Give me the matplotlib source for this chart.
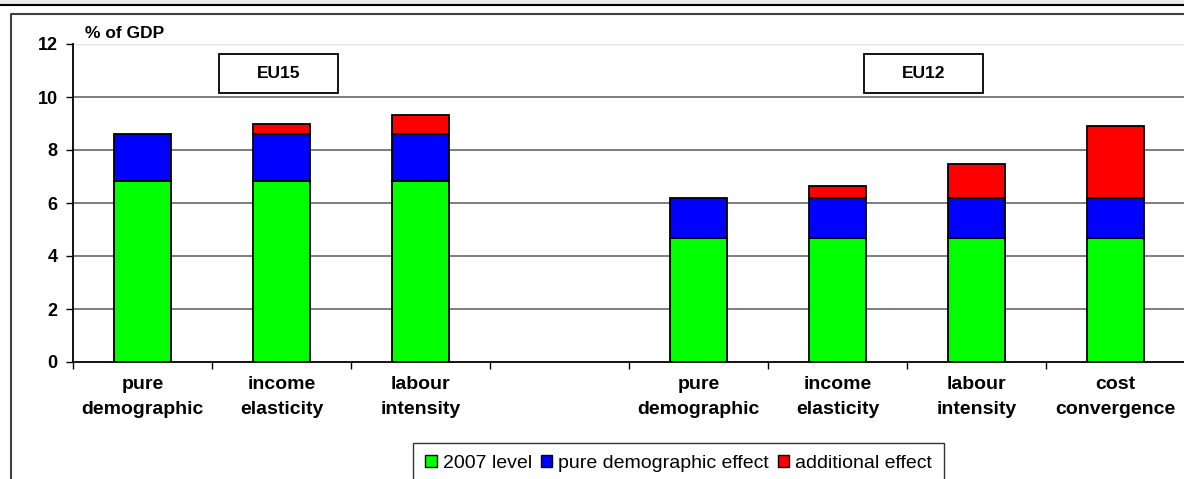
import matplotlib
matplotlib.use("Agg")
import matplotlib.pyplot as plt
from matplotlib.patches import Rectangle, Patch
from matplotlib.lines import Line2D
import numpy as np

# ---- data ----
categories = ["pure\ndemographic", "income\nelasticity", "labour\nintensity", "",
              "pure\ndemographic", "income\nelasticity", "labour\nintensity", "cost\nconvergence"]
level_2007 = [6.82, 6.82, 6.82, 0.0, 4.68, 4.68, 4.68, 4.68]
pure_demo_effect = [1.77, 1.77, 1.77, 0.0, 1.51, 1.51, 1.51, 1.51]
additional_effect = [0.0, 0.38, 0.73, 0.0, 0.0, 0.44, 1.28, 2.71]
series_names = ["2007 level", "pure demographic effect", "additional effect"]
group_labels = ["EU15", "EU12"]
y_ticks = [0, 2, 4, 6, 8, 10, 12]

W, H = 1184, 479
fig = plt.figure(figsize=(W / 100, H / 100), dpi=100)
plt.rcParams['font.family'] = ['Liberation Sans', 'DejaVu Sans']

def fx(px):
    return px / W

def fy(py):
    return 1 - py / H

# top strip (cut-off title area)
fig.patches.append(Rectangle((0, fy(4.5)), 1, 4.5 / H, transform=fig.transFigure,
                             facecolor="#ececec", edgecolor="none", zorder=0))
fig.add_artist(Line2D([0, 1], [fy(4.5), fy(4.5)], transform=fig.transFigure,
                      color="black", lw=1.5))
# outer chart frame
fig.add_artist(Line2D([fx(11), fx(11), 1.01], [0, fy(14), fy(14)], transform=fig.transFigure,
                      color="#404040", lw=1.5))

ax = fig.add_axes([fx(73), fy(362), fx(1185) - fx(73), fy(44) - fy(362)])
x = np.arange(len(categories))
width = 0.41
bottoms2 = np.array(level_2007) + np.array(pure_demo_effect)
mask = np.array(level_2007) > 0
ax.bar(x[mask], np.array(level_2007)[mask], width, color="#00ff00", edgecolor="black", lw=1.3, zorder=3)
ax.bar(x[mask], np.array(pure_demo_effect)[mask], width, bottom=np.array(level_2007)[mask],
       color="#0000ff", edgecolor="black", lw=1.3, zorder=3)
madd = np.array(additional_effect) > 0
ax.bar(x[madd], np.array(additional_effect)[madd], width, bottom=bottoms2[madd],
       color="#ff0000", edgecolor="black", lw=1.3, zorder=3)

ax.set_xlim(-0.5, len(categories) - 0.5)
ax.set_ylim(0, 12)
ax.set_yticks(y_ticks)
ax.set_yticklabels([str(t) for t in y_ticks], fontsize=13, fontweight="bold")
for t in y_ticks[1:-1]:
    ax.axhline(t, color="#5a5a5a", lw=1.1, zorder=1)
ax.axhline(12, color="#e4e4e4", lw=1.0, zorder=1)

ax.set_xticks(x)
ax.set_xticklabels(categories, fontsize=14, fontweight="bold", linespacing=1.6)
ax.tick_params(axis="x", which="major", length=0, pad=10)
ax.set_xticks(np.arange(-0.5, len(categories) - 0.5, 1.0), minor=True)
ax.tick_params(axis="x", which="minor", length=5, width=1, color="black", direction="out")
ax.tick_params(axis="y", length=5, width=1, direction="out", pad=6)

for s in ["top", "right"]:
    ax.spines[s].set_visible(False)
ax.spines["left"].set_linewidth(1.3)
ax.spines["bottom"].set_linewidth(1.3)

# % of GDP label
fig.text(fx(85), fy(33), "% of GDP", fontsize=12.5, fontweight="bold", ha="left", va="center")

# group boxes
for lbl, (x0, x1) in zip(group_labels, [(219, 338), (864, 983)]):
    fig.patches.append(Rectangle((fx(x0), fy(93)), fx(x1) - fx(x0), (93 - 54) / H,
                                 transform=fig.transFigure, facecolor="white",
                                 edgecolor="black", lw=1.3, zorder=5))
    fig.text(fx((x0 + x1) / 2), fy(73.5), lbl, fontsize=12.5, fontweight="bold",
             ha="center", va="center", zorder=6)

handles = [Patch(facecolor=c, edgecolor="black", lw=1.0) for c in ["#00ff00", "#0000ff", "#ff0000"]]
leg = fig.legend(handles, series_names, loc="upper center", bbox_to_anchor=(fx(678.5), fy(443)),
                 ncol=3, fontsize=14, frameon=True, fancybox=False, borderpad=0.6,
                 handlelength=0.6, handleheight=0.6, handletextpad=0.3, columnspacing=0.45,
                 borderaxespad=0)
leg.get_frame().set_edgecolor("black")
leg.get_frame().set_linewidth(1.0)

fig.savefig("out.png", dpi=100)
